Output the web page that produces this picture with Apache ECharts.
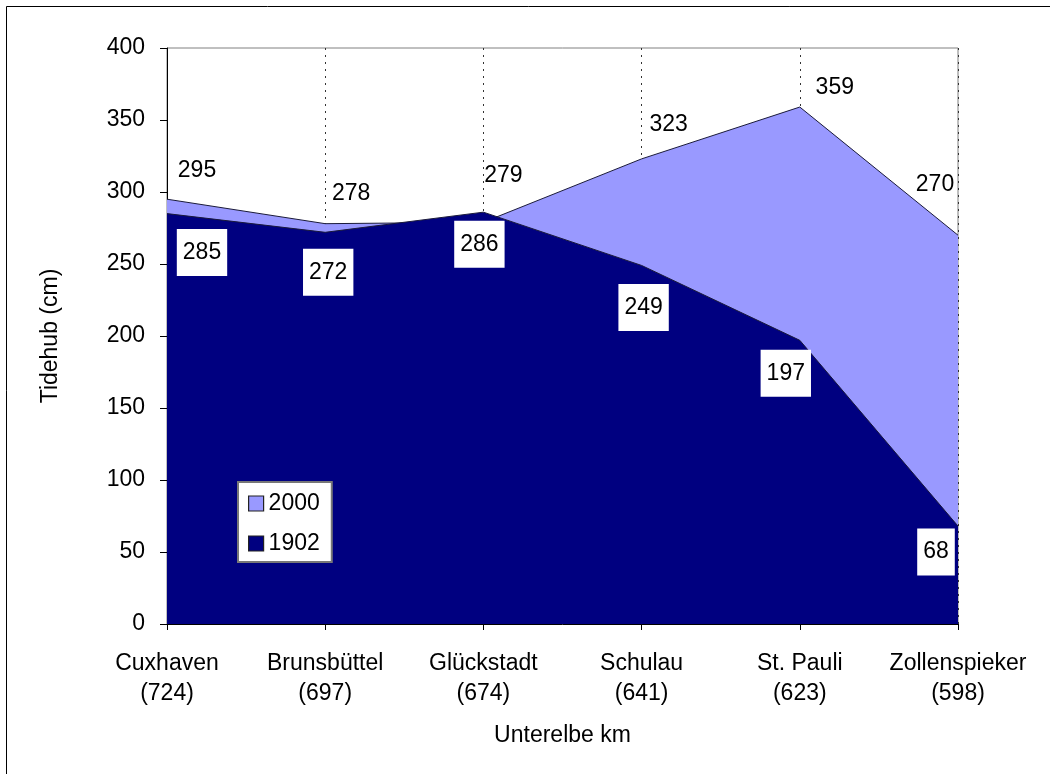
<!DOCTYPE html>
<html>
<head>
<meta charset="utf-8">
<title>Tidehub Unterelbe</title>
<script src="https://cdn.jsdelivr.net/npm/echarts@6/dist/echarts.min.js"></script>
<style>
  html, body { margin: 0; padding: 0; background: #fff; }
  #chart { width: 1050px; height: 774px; }
</style>
</head>
<body>
<div id="chart"></div>
<script>
// Gauging stations along the Lower Elbe and their river kilometre
const stations = ['Cuxhaven', 'Brunsbüttel', 'Glückstadt', 'Schulau', 'St. Pauli', 'Zollenspieker'];
const riverKm = [724, 697, 674, 641, 623, 598];

// Mean tidal range in cm
const tide2000 = [295, 278, 279, 323, 359, 270];
const tide1902 = [285, 272, 286, 249, 197, 68];

// Y axis range
const yMin = 0;
const yMax = 400;
const yStep = 50;

// Hand-placed label offsets (pixels) so the numbers sit clear of the edges
const offsets2000 = [[30, -29], [26, -30], [20, -47], [27, -34], [35, -19], [-23, -51]];
const offsets1902 = [[35, 39], [3, 40], [-4, 32], [2, 42], [-14, 33], [-22, 26]];

const FONT = '"Liberation Sans", Arial, sans-serif';
const FS = 23;

const categories = stations.map((s, i) => s + '\n(' + riverKm[i] + ')');

function withOffsets(values, offsets) {
  return values.map((v, i) => ({ value: v, label: { offset: offsets[i] } }));
}

const chart = echarts.init(document.getElementById('chart'), null, { renderer: 'canvas' });

chart.setOption({
  animation: false,
  backgroundColor: '#ffffff',
  textStyle: { fontFamily: FONT },
  graphic: [{
    type: 'rect',
    silent: true,
    shape: { x: 6.5, y: 6.5, width: 1100, height: 1000 },
    style: { fill: 'none', stroke: '#000', lineWidth: 1 }
  }],
  grid: {
    left: 167, right: 92, top: 48, bottom: 150,
    show: true, borderColor: '#808080', borderWidth: 1,
    backgroundColor: 'transparent'
  },
  legend: {
    orient: 'vertical',
    left: 238, top: 482,
    padding: [10, 12, 7, 10],
    itemGap: 17,
    itemWidth: 15, itemHeight: 15,
    icon: 'rect',
    backgroundColor: '#fff',
    borderColor: '#777',
    borderWidth: 2,
    borderRadius: 0,
    textStyle: { fontFamily: FONT, fontSize: FS, color: '#000' },
    itemStyle: { borderColor: '#222', borderWidth: 1.2 },
    data: ['2000', '1902']
  },
  xAxis: {
    type: 'category',
    data: categories,
    boundaryGap: false,
    name: 'Unterelbe km',
    nameLocation: 'middle',
    nameGap: 100,
    nameMoveOverlap: false,
    nameTextStyle: { fontFamily: FONT, fontSize: FS, color: '#000' },
    axisLine: { show: true, lineStyle: { color: '#000', width: 1 } },
    axisTick: { show: true, length: 6, inside: false, lineStyle: { color: '#000' } },
    axisLabel: {
      interval: 0,
      margin: 25,
      fontFamily: FONT, fontSize: FS, color: '#000',
      lineHeight: 30,
      align: 'center'
    },
    splitLine: { show: true, lineStyle: { color: '#333', width: 1, type: [2, 5] } }
  },
  yAxis: {
    type: 'value',
    min: yMin, max: yMax, interval: yStep,
    name: 'Tidehub (cm)',
    nameLocation: 'middle',
    nameGap: 105,
    nameMoveOverlap: false,
    nameRotate: 90,
    nameTextStyle: { fontFamily: FONT, fontSize: FS, color: '#000' },
    axisLine: { show: true, lineStyle: { color: '#000', width: 1 } },
    axisTick: { show: true, length: 7, inside: false, lineStyle: { color: '#000' } },
    axisLabel: { margin: 22, fontFamily: FONT, fontSize: FS, color: '#000' },
    splitLine: { show: false }
  },
  series: [
    {
      name: '2000',
      type: 'line',
      data: withOffsets(tide2000, offsets2000),
      symbol: 'circle',
      symbolSize: 0,
      showSymbol: true,
      itemStyle: { color: '#9999FF' },
      lineStyle: { color: '#1a1a3a', width: 1 },
      areaStyle: { color: '#9999FF', opacity: 1 },
      label: {
        show: true,
        position: 'inside',
        fontFamily: FONT, fontSize: FS, color: '#000'
      },
      z: 2
    },
    {
      name: '1902',
      type: 'line',
      data: withOffsets(tide1902, offsets1902),
      symbol: 'circle',
      symbolSize: 0,
      showSymbol: true,
      itemStyle: { color: '#000080' },
      lineStyle: { color: '#1a1a3a', width: 1 },
      areaStyle: { color: '#000080', opacity: 1 },
      label: {
        show: true,
        position: 'inside',
        fontFamily: FONT, fontSize: FS, color: '#000',
        backgroundColor: '#fff',
        padding: [12, 6],
        lineHeight: 23
      },
      z: 3
    }
  ]
});
</script>
</body>
</html>
